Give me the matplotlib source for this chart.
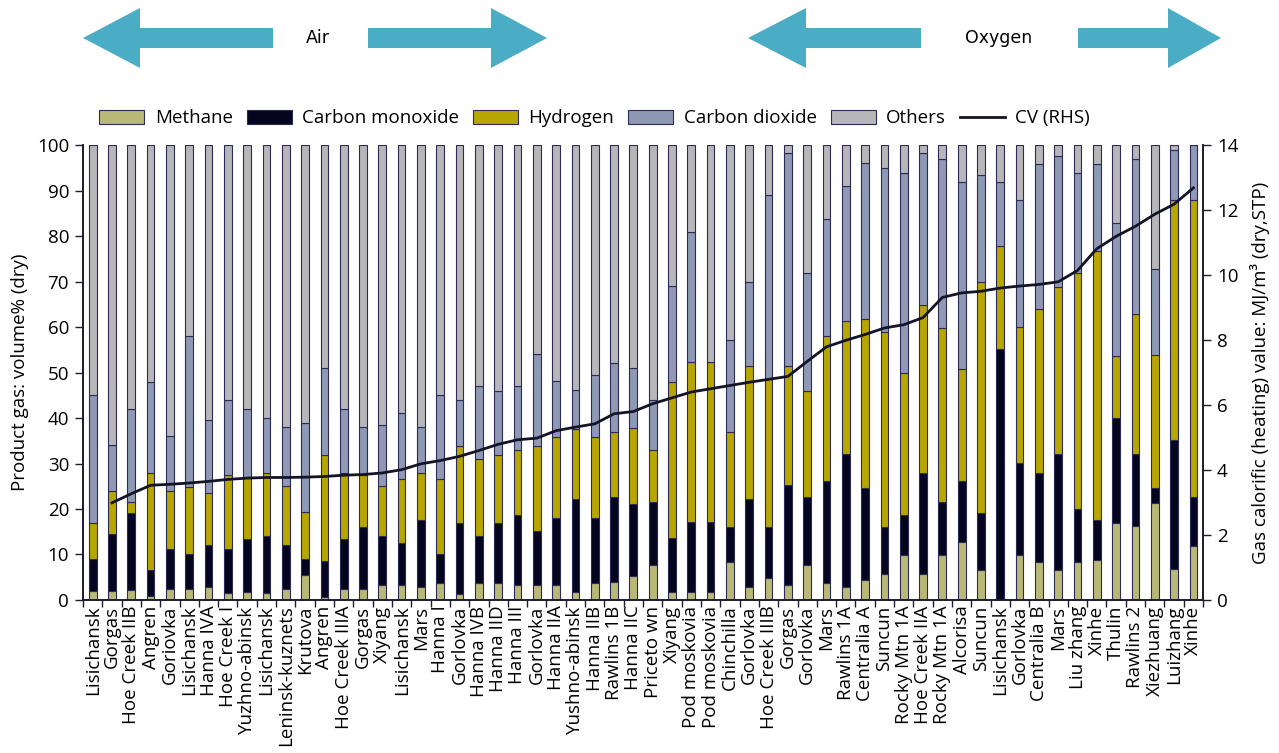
import numpy as np
import matplotlib

matplotlib.use("Agg")
import matplotlib.pyplot as plt
from matplotlib.patches import Polygon, Patch
from matplotlib.lines import Line2D

plt.rcParams["font.family"] = ["Open Sans", "DejaVu Sans"]
plt.rcParams["font.size"] = 13.5

# ---- data ----
sites = [
    "Lisichansk", "Gorgas", "Hoe Creek IIB", "Angren", "Goriovka", "Lisichansk",
    "Hanna IVA", "Hoe Creek I", "Yuzhno-abinsk", "Lisichansk", "Leninsk-kuznets",
    "Krutova", "Angren", "Hoe Creek IIIA", "Gorgas", "Xiyang", "Lisichansk", "Mars",
    "Hanna I", "Gorlovka", "Hanna IVB", "Hanna IID", "Hanna III", "Gorlovka",
    "Hanna IIA", "Yushno-abinsk", "Hanna IIB", "Rawlins 1B", "Hanna IIC",
    "Priceto wn", "Xiyang", "Pod moskovia", "Pod moskovia", "Chinchilla", "Gorlovka",
    "Hoe Creek IIIB", "Gorgas", "Gorlovka", "Mars", "Rawlins 1A", "Centralia A",
    "Suncun", "Rocky Mtn 1A", "Hoe Creek IIA", "Rocky Mtn 1A", "Alcorisa", "Suncun",
    "Lisichansk", "Gorlovka", "Centralia B", "Mars", "Liu zhang", "Xinhe", "Thulin",
    "Rawlins 2", "Xiezhuang", "Luizhang", "Xinhe",
]

methane = [
    1.9, 1.9, 2.2, 0.9, 2.5, 2.5, 2.9, 1.6, 1.8, 1.6, 2.5, 5.4, 0.6, 2.5, 2.5, 3.4,
    3.4, 2.9, 3.8, 1.4, 3.8, 3.8, 3.4, 3.3, 3.3, 1.8, 3.8, 4.0, 5.2, 7.8, 1.8, 1.8,
    1.8, 8.3, 2.8, 4.8, 3.3, 7.7, 3.7, 2.8, 4.4, 5.8, 9.9, 5.8, 9.8, 12.8, 6.5, 0.3,
    9.9, 8.4, 6.5, 8.4, 8.8, 16.9, 16.2, 21.3, 6.8, 11.8,
]
carbon_monoxide = [
    7.2, 12.7, 16.9, 5.7, 8.6, 7.6, 9.1, 9.5, 11.7, 12.4, 9.5, 3.7, 8.0, 11.0, 13.5,
    10.6, 9.2, 14.6, 6.3, 15.6, 10.2, 13.2, 15.2, 11.8, 14.8, 20.3, 14.3, 18.6, 15.8,
    13.7, 11.8, 15.3, 15.3, 7.7, 19.3, 11.2, 21.9, 14.9, 22.4, 29.2, 20.2, 10.2, 8.7,
    22.2, 11.7, 13.3, 12.6, 54.8, 20.2, 19.6, 25.5, 11.7, 8.8, 23.2, 15.8, 3.3, 28.3,
    10.8,
]
hydrogen = [
    7.9, 9.3, 2.4, 21.3, 12.8, 14.7, 11.5, 16.4, 13.5, 13.9, 13.0, 10.3, 23.2, 14.4,
    11.4, 11.0, 13.9, 10.4, 16.4, 16.8, 17.0, 14.8, 14.4, 18.7, 17.7, 15.5, 17.7,
    14.3, 16.9, 11.5, 34.3, 35.2, 35.2, 20.9, 29.3, 32.5, 26.2, 23.3, 31.9, 29.3,
    37.2, 42.9, 31.4, 36.9, 38.3, 24.7, 50.8, 22.7, 29.8, 35.9, 36.8, 51.8, 59.1,
    13.6, 30.9, 29.2, 52.8, 65.3,
]
carbon_dioxide = [
    28.0, 10.1, 20.5, 20.0, 12.1, 33.2, 16.0, 16.5, 15.0, 12.1, 13.0, 19.5, 19.2,
    14.1, 10.6, 13.5, 14.5, 10.1, 18.5, 10.2, 16.0, 14.2, 14.0, 20.2, 12.3, 8.5,
    13.7, 15.1, 13.2, 11.0, 21.1, 28.6, 0.0, 20.2, 18.6, 40.5, 46.8, 26.0, 25.8,
    29.7, 34.2, 36.0, 43.9, 33.3, 37.1, 41.1, 23.6, 14.1, 28.0, 32.0, 28.7, 22.0,
    19.2, 29.2, 34.0, 19.0, 11.0, 12.1,
]
others = [
    55.0, 66.0, 58.0, 52.1, 64.0, 42.0, 60.5, 56.0, 58.0, 60.0, 62.0, 61.1, 49.0,
    58.0, 62.0, 61.5, 59.0, 62.0, 55.0, 56.0, 53.0, 54.0, 53.0, 46.0, 51.9, 53.9,
    50.5, 48.0, 48.9, 56.0, 31.0, 19.1, 47.7, 42.9, 30.0, 11.0, 1.8, 28.1, 16.2,
    9.0, 4.0, 5.1, 6.1, 1.8, 3.1, 8.1, 6.5, 8.1, 12.1, 4.1, 2.5, 6.1, 4.1, 17.1,
    3.1, 27.2, 1.1, 0.0,
]
cv_rhs = [
    np.nan, 2.99, 3.27, 3.53, 3.56, 3.60, 3.65, 3.71, 3.75, 3.77, 3.77, 3.78, 3.80,
    3.84, 3.86, 3.91, 4.01, 4.19, 4.29, 4.42, 4.60, 4.79, 4.93, 4.98, 5.21, 5.32,
    5.42, 5.73, 5.80, 6.04, 6.22, 6.40, 6.50, 6.60, 6.70, 6.79, 6.88, 7.34, 7.79,
    7.99, 8.17, 8.37, 8.47, 8.69, 9.31, 9.45, 9.50, 9.60, 9.66, 9.71, 9.79, 10.14,
    10.81, 11.19, 11.50, 11.87, 12.18, 12.68,
]

series = [
    ("Methane", methane, "#b9b977"),
    ("Carbon monoxide", carbon_monoxide, "#050520"),
    ("Hydrogen", hydrogen, "#b8a600"),
    ("Carbon dioxide", carbon_dioxide, "#8f99b4"),
    ("Others", others, "#b7b7b9"),
]

EDGE = "#2b2b55"
AXIS = "#1c1c30"
ARROW = "#4bacc6"

fig = plt.figure(figsize=(12.79, 7.53), dpi=100)
ax = fig.add_axes([0.0649, 0.2032, 0.8757, 0.6042])

x = np.arange(len(sites))
bottom = np.zeros(len(sites))
handles = []
for name, vals, color in series:
    vals = np.asarray(vals)
    ax.bar(x, vals, bottom=bottom, width=0.4, color=color, edgecolor=EDGE,
           linewidth=0.8, zorder=2)
    bottom += vals
    handles.append(Patch(facecolor=color, edgecolor=EDGE, linewidth=0.8, label=name))

ax.set_xlim(-0.5, len(sites) - 0.5)
ax.set_ylim(0, 100)
ax.set_yticks(range(0, 101, 10))
ax.set_xticks(x)
ax.set_xticklabels(sites, rotation=90, va="top", ha="center")
ax.set_xticks(np.arange(-0.5, len(sites), 1.0), minor=True)
ax.tick_params(axis="x", which="major", length=0, pad=4)
ax.tick_params(axis="x", which="minor", length=5, width=1, color=AXIS, direction="out")
ax.tick_params(axis="y", length=6, width=1, color=AXIS, pad=4)
ax.set_ylabel("Product gas: volume% (dry)", labelpad=6)
for side in ("left", "bottom", "right"):
    ax.spines[side].set_color(AXIS)
    ax.spines[side].set_linewidth(1.2)
ax.spines["top"].set_visible(False)

ax2 = ax.twinx()
ax2.plot(x, cv_rhs, color="#141428", linewidth=2.0, zorder=3)
ax2.set_ylim(0, 14)
ax2.set_yticks(range(0, 15, 2))
ax2.tick_params(axis="y", length=6, width=1, color=AXIS, pad=4)
ax2.set_ylabel("Gas calorific (heating) value: MJ/m\u00b3 (dry,STP)", labelpad=8)
for side in ("left", "bottom", "right"):
    ax2.spines[side].set_color(AXIS)
    ax2.spines[side].set_linewidth(1.2)
ax2.spines["top"].set_visible(False)

handles.append(Line2D([], [], color="#141428", linewidth=2.0, label="CV (RHS)"))
fig.legend(handles=handles, loc="center", bbox_to_anchor=(0.465, 0.843), ncol=6,
           frameon=False, handlelength=2.4, handleheight=0.75, handletextpad=0.55,
           columnspacing=0.75, fontsize=13.5)

# decorative arrows (pixel coordinates)
deco = fig.add_axes([0, 0, 1, 1], zorder=-1)
deco.set_xlim(0, 1279)
deco.set_ylim(753, 0)
deco.axis("off")


def arrow(tip, base, end, cy=38, head=30, shaft=10):
    pts = [(tip, cy), (base, cy - head), (base, cy - shaft), (end, cy - shaft),
           (end, cy + shaft), (base, cy + shaft), (base, cy + head)]
    deco.add_patch(Polygon(pts, closed=True, facecolor=ARROW, edgecolor="none"))


arrow(83, 140, 273)
arrow(547, 491, 368)
arrow(748, 806, 921)
arrow(1221, 1168, 1078)
deco.text(318, 38, "Air", ha="center", va="center", fontsize=12.5,
          family=["Liberation Sans Narrow", "DejaVu Sans"])
deco.text(999, 38, "Oxygen", ha="center", va="center", fontsize=12.5,
          family=["Liberation Sans Narrow", "DejaVu Sans"])

fig.savefig("out.png", dpi=100)
